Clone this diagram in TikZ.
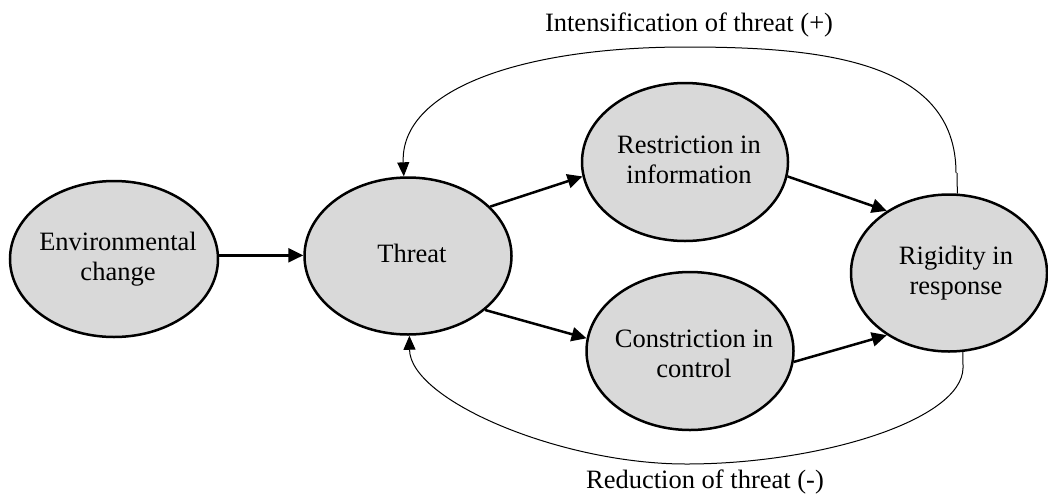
\documentclass[tikz,border=0pt]{standalone}
\usepackage{fontspec}
\setmainfont{Liberation Serif}
\usetikzlibrary{arrows.meta,shapes.geometric}
\definecolor{bubble}{HTML}{D9D9D9}
% centred text block that does not enlarge the ellipse around it;
% the optional argument lowers the block
\newcommand{\bubbletext}[2][0pt]{\smash{\raisebox{\dimexpr-6.6pt-#1\relax}{\makebox[0pt]{\hspace{8pt}\begin{tabular}{@{}c@{}}#2\end{tabular}}}}}
\begin{document}
\begin{tikzpicture}[x=1pt,y=-1pt,
  bubble/.style={ellipse,draw=black,line width=2.5pt,fill=bubble,inner sep=0pt,
    font=\fontsize{26.5}{30}\selectfont},
  flow/.style={line width=2.5pt,-{Triangle[length=15pt,width=14pt]}},
  thin/.style={line width=1pt},
  loop/.style={thin,-{Triangle[length=14pt,width=12pt]}},
  caption/.style={font=\fontsize{26.5}{30}\selectfont}]
\useasboundingbox (0,0) rectangle (1048,496);

% stages of the threat-rigidity cycle
\node[bubble,minimum width=208pt,minimum height=156pt] (env) at (114,259) {\bubbletext{Environmental\\change}};
\node[bubble,minimum width=207pt,minimum height=157pt] (threat) at (408,256) {\bubbletext{Threat}};
\node[bubble,minimum width=206pt,minimum height=158pt] (restr) at (685,162) {\bubbletext{Restriction in\\information}};
\node[bubble,minimum width=207pt,minimum height=158pt] (constr) at (690,351) {\bubbletext[5pt]{Constriction in\\control}};
\node[bubble,minimum width=196pt,minimum height=157pt] (rigid) at (949,273) {\bubbletext{\hspace{6pt}Rigidity in\\\hspace{6pt}response}};

% forward links
\draw[flow] (env.2) -- (env.2 -| threat.west);
\draw[flow] (threat.31) -- (restr.188);
\draw[flow] (threat.325) -- (constr.173);
\draw[flow] (restr.352) -- (rigid.135);
\draw[flow] (constr.354) -- (rigid.225);

% feedback loops
\coordinate (topjog) at (957,173);
\coordinate (botjog) at (963,368);
\draw[thin] (rigid.84) -- (topjog);
\draw[loop] ([xshift=-1pt]topjog) .. controls (956,60) and (820,47) .. (686,47)
  .. controls (520,47) and (400,90) .. (threat.93);
\draw[thin] (rigid.280) -- (botjog);
\draw[loop] (botjog) .. controls (962,420) and (820,464) .. (686,464)
  .. controls (560,464) and (410,400) .. (threat.271);

\node[caption] (plus) at (689,25) {Intensification of threat (+)};
\node[caption] (minus) at (705,482) {Reduction of threat (-)};
\end{tikzpicture}
\end{document}
